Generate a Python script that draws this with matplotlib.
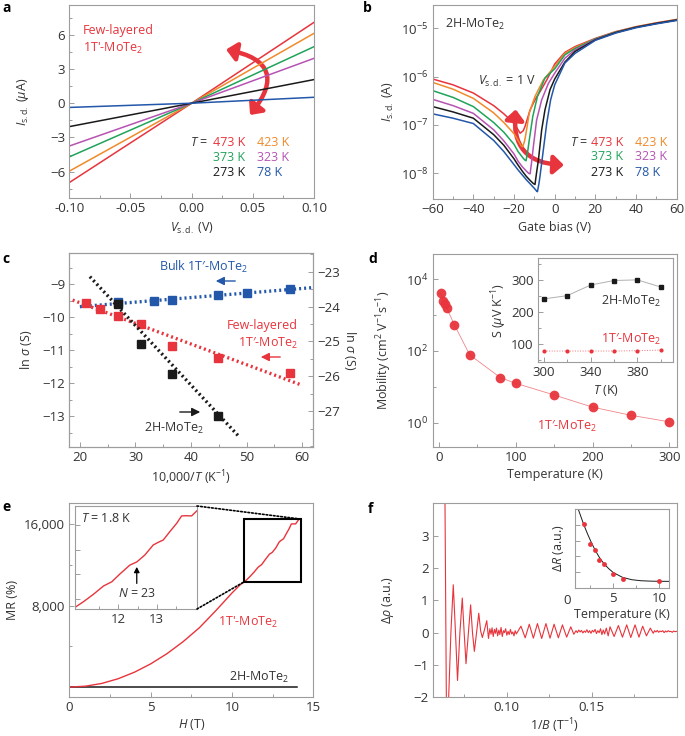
import numpy as np
import matplotlib
matplotlib.use("Agg")
import matplotlib.pyplot as plt
from matplotlib.patches import FancyArrowPatch, Rectangle, ConnectionPatch
from matplotlib.ticker import MultipleLocator, FixedLocator, NullFormatter, FormatStrFormatter

plt.rcParams['font.family'] = ['Open Sans', 'DejaVu Sans']
plt.rcParams['mathtext.fontset'] = 'custom'
plt.rcParams['mathtext.rm'] = 'Open Sans'
plt.rcParams['mathtext.it'] = 'Open Sans:italic'
plt.rcParams['mathtext.bf'] = 'Open Sans:bold'
plt.rcParams['font.size'] = 9

RED = '#e8343c'
ORANGE = '#f08a2a'
GREEN = '#1fa35a'
VIOLET = '#b653b3'
BLACK = '#1a1a1a'
BLUE = '#2357aa'
GRAY = '#9d9d9d'
TXT = '#333333'

# ---- panel a : I-V curves of few-layered 1T'-MoTe2
a_temps = ['473 K', '423 K', '373 K', '323 K', '273 K', '78 K']
a_colors = [RED, ORANGE, GREEN, VIOLET, BLACK, BLUE]
a_vsd = [-0.1, 0.0, 0.1]
a_i_left = [-6.95, -5.95, -4.70, -3.75, -2.05, -0.37]
a_i_right = [7.08, 6.12, 4.95, 3.93, 2.07, 0.52]

# ---- panel b : transfer curves of 2H-MoTe2 (log10 of I in A)
b_vg_left = [-60, -50, -40, -30, -25, -20]
b_vg_right = [5, 10, 20, 30, 40, 50, 60]
b_log_left = {
    '473 K': [-6.05, -6.17, -6.34, -6.60, -6.77, -6.97],
    '423 K': [-6.12, -6.26, -6.45, -6.75, -6.95, -7.18],
    '373 K': [-6.29, -6.43, -6.62, -6.95, -7.15, -7.40],
    '323 K': [-6.47, -6.60, -6.76, -7.10, -7.33, -7.60],
    '273 K': [-6.62, -6.73, -6.86, -7.20, -7.42, -7.70],
    '78 K': [-6.77, -6.86, -6.97, -7.32, -7.55, -7.82],
}
b_vg_mid = {
    '473 K': [-18, -17, -15.5, -14.6, -12.1, -9.7, -7.2, -3.9, 0],
    '423 K': [-18, -16.5, -15.7, -14.8, -14.1, -12.5, -9.7, -5.6, 0],
    '373 K': [-18, -16, -14.8, -14.1, -13.3, -12.5, -10.8, -8.5, -4.8, 0],
    '323 K': [-18, -16, -14, -12.8, -12.1, -11.3, -10.5, -8.9, -6.4, -3.1, 0],
    '273 K': [-18, -16, -14, -12, -10.5, -9.7, -8.9, -8.0, -6.4, -4.8, -2.3, 0],
    '78 K': [-18, -16, -14, -12, -10, -9, -8.5, -7.7, -7.2, -5.6, -3.9, -2.0, 0],
}
b_log_mid = {
    '473 K': [-7.10, -7.17, -7.12, -7.03, -6.69, -6.48, -6.31, -6.07, -5.74],
    '423 K': [-7.32, -7.43, -7.45, -7.33, -7.17, -6.75, -6.41, -6.07, -5.79],
    '373 K': [-7.55, -7.66, -7.72, -7.74, -7.55, -7.31, -6.83, -6.41, -6.03, -5.84],
    '323 K': [-7.75, -7.86, -7.95, -8.00, -8.01, -7.75, -7.45, -6.90, -6.48, -6.14, -5.93],
    '273 K': [-7.83, -7.95, -8.06, -8.15, -8.21, -8.23, -7.98, -7.72, -7.10, -6.69, -6.27, -6.05],
    '78 K': [-7.93, -8.03, -8.13, -8.22, -8.31, -8.36, -8.38, -8.20, -8.05, -7.52, -6.96, -6.48, -6.17],
}
b_log_right = {
    '473 K': [-5.50, -5.38, -5.21, -5.07, -4.97, -4.89, -4.82],
    '423 K': [-5.52, -5.40, -5.22, -5.08, -4.97, -4.89, -4.82],
    '373 K': [-5.55, -5.42, -5.22, -5.08, -4.98, -4.90, -4.83],
    '323 K': [-5.62, -5.45, -5.23, -5.09, -4.98, -4.90, -4.83],
    '273 K': [-5.70, -5.48, -5.24, -5.09, -4.98, -4.90, -4.83],
    '78 K': [-5.72, -5.52, -5.25, -5.10, -4.99, -4.91, -4.84],
}

# ---- panel c : Arrhenius plots
c_bulk_x = [26.8, 33.3, 36.6, 44.8, 50.0, 57.8]
c_bulk_y = [-9.55, -9.50, -9.47, -9.34, -9.27, -9.15]
c_few_x = [21.1, 23.6, 26.8, 31.0, 36.6, 44.8, 57.8]
c_few_y = [-9.58, -9.75, -9.96, -10.22, -10.86, -11.25, -11.70]
c_2h_x = [26.8, 31.0, 36.6, 44.8]
c_2h_y = [-23.93, -25.06, -25.92, -27.14]
c_bulk_fit_x = [20.0, 62.0]
c_bulk_fit_y = [-9.68, -9.10]
c_few_fit_x = [18.7, 59.9]
c_few_fit_y = [-9.48, -12.06]
c_2h_fit_x = [21.8, 48.7]
c_2h_fit_y = [-23.14, -27.74]

# ---- panel d : mobility and Seebeck inset
d_temp = [2, 5, 8, 10, 20, 40, 80, 100, 150, 200, 250, 300]
d_mob = [4200, 2500, 2000, 1600, 540, 78, 18, 12.5, 5.9, 2.7, 1.6, 1.05]
d_s_temp = [300, 320, 340, 360, 380, 400]
d_s_2h = [241, 251, 284, 298, 300, 278]
d_s_1t = [79, 79, 79, 79, 80, 82]

# ---- panel e : magnetoresistance
e_h = [0, 1, 2, 3, 4, 5, 6, 7, 8, 9, 10, 10.5,
       10.87, 11.09, 11.35, 11.61, 11.83, 12.04, 12.30, 12.48, 12.69, 12.91,
       13.04, 13.17, 13.34, 13.52, 13.65, 13.78, 13.91, 14.07]
e_mr = [0, 90, 360, 820, 1460, 2280, 3280, 4470, 5840, 7500, 9250, 10050,
        10500, 10840, 11290, 11790, 12050, 12520, 13060, 13250, 13670, 14280,
        14440, 14580, 15080, 15590, 16040, 16050, 16040, 16400]
e_h_2h = [0, 14]
e_mr_2h = [30, 30]

# ---- panel f : SdH oscillations and amplitude vs temperature
f_x = [0.0636, 0.0646, 0.0657, 0.0672, 0.0686, 0.0699, 0.0711, 0.0725, 0.0739, 0.0750,
       0.0761, 0.0775, 0.0788, 0.0799, 0.0810, 0.0823, 0.0836, 0.0847, 0.0857, 0.0870,
       0.0883, 0.0893, 0.0901, 0.0908, 0.0914, 0.0921, 0.0928, 0.0934, 0.0940, 0.0947,
       0.0954, 0.0960, 0.0967, 0.0974, 0.0981, 0.0987, 0.0994, 0.1001, 0.1008, 0.1015,
       0.1022, 0.1029, 0.1036, 0.1043, 0.1050, 0.1057, 0.1084, 0.1109, 0.1133, 0.1157,
       0.1181, 0.1206, 0.1231, 0.1255, 0.1279, 0.1304, 0.1328, 0.1353, 0.1377, 0.1395,
       0.1408, 0.1416, 0.1424, 0.1432, 0.1440, 0.1448, 0.1456, 0.1464, 0.1472, 0.1480,
       0.1488, 0.1496, 0.1504, 0.1512, 0.1520, 0.1528, 0.1536, 0.1544, 0.1552, 0.1560,
       0.1568, 0.1576, 0.1586, 0.1597, 0.1608, 0.1632, 0.1657, 0.1681, 0.1706, 0.1730,
       0.1755, 0.1778, 0.1800, 0.1822, 0.1845, 0.1862, 0.1870, 0.1878, 0.1886, 0.1894,
       0.1902, 0.1910, 0.1918, 0.1926, 0.1934, 0.1942, 0.1950, 0.1958, 0.1966, 0.1974,
       0.1982, 0.1990, 0.2000]
f_y = [5.0, -2.6, -2.3, 0.0, 1.48, 0.0, -1.48, 0.0, 1.07, 0.0,
       -0.96, 0.0, 0.86, 0.0, -0.58, 0.0, 0.60, 0.05, -0.15, 0.10,
       0.37, -0.18, 0.12, -0.05, 0.15, -0.12, 0.10, -0.02, 0.14, -0.10,
       0.08, -0.06, 0.16, -0.12, 0.06, 0.0, 0.12, -0.08, 0.04, -0.06,
       0.10, -0.04, 0.02, -0.10, 0.06, -0.04, 0.20, -0.16, 0.26, -0.17,
       0.28, -0.18, 0.28, -0.17, 0.26, -0.16, 0.24, -0.14, 0.18, -0.05,
       0.06, 0.00, 0.08, 0.02, 0.07, -0.01, 0.05, 0.01, 0.09, 0.00,
       0.06, -0.02, 0.07, 0.02, 0.10, -0.03, 0.06, 0.00, 0.12, -0.06,
       0.08, -0.04, 0.14, -0.10, 0.18, -0.12, 0.22, -0.14, 0.24, -0.15,
       0.24, -0.14, 0.20, -0.10, 0.14, -0.02, 0.06, 0.02, 0.07, 0.01,
       0.05, 0.03, 0.06, 0.00, 0.05, 0.02, 0.06, 0.03, 0.04, 0.01,
       0.05, 0.03, 0.04]
f_temp = [1.8, 2.5, 3.0, 3.5, 4.0, 5.0, 6.0, 10.0]
f_dr = [8.1, 5.6, 4.8, 3.5, 3.05, 1.8, 1.2, 0.85]
f_fit_temp = [1.0, 1.4, 1.8, 2.2, 2.6, 3.0, 3.5, 4.0, 4.5, 5.0, 6.0, 7.0, 8.0, 9.0, 10.0, 11.0]
f_fit_dr = [10.6, 9.3, 8.0, 6.85, 5.8, 4.85, 3.85, 3.05, 2.45, 1.95, 1.35, 1.05, 0.92, 0.87, 0.85, 0.84]

W, H = 685, 736
fig = plt.figure(figsize=(W / 100, H / 100), dpi=100)


def add_ax(x0, y0, x1, y1):
    return fig.add_axes([x0 / W, 1 - y1 / H, (x1 - x0) / W, (y1 - y0) / H])


def style(ax, right=False, size=9.5):
    for s in ax.spines.values():
        s.set_color(GRAY)
        s.set_linewidth(0.8)
    ax.tick_params(which='both', direction='in', color=GRAY, labelcolor=TXT,
                   top=False, right=right, width=0.7, labelsize=size, pad=3)
    ax.tick_params(which='major', length=3.5)
    ax.tick_params(which='minor', length=2)


def labels(ax, xl, yl, xpos, ypos):
    ax.set_xlabel(xl, color=TXT)
    ax.set_ylabel(yl, color=TXT)
    ax.xaxis.set_label_coords(0.5, xpos)
    ax.yaxis.set_label_coords(ypos, 0.5)


def ftxt(x, y, s, **kw):
    kw.setdefault('va', 'center')
    fig.text(x / W, 1 - y / H, s, **kw)


ARROW = '<|-|>,head_length=0.55,head_width=0.5'

# ================= a
ax = add_ax(69.3, 5, 314, 198)
style(ax)
for lab, col, il, ir in zip(a_temps, a_colors, a_i_left, a_i_right):
    ax.plot(a_vsd, [il, 0, ir], color=col, lw=1.1)
ax.set_xlim(-0.1, 0.1)
ax.set_ylim(-8.3, 8.6)
ax.set_xticks([-0.1, -0.05, 0, 0.05, 0.1])
ax.xaxis.set_major_formatter(FormatStrFormatter('%.2f'))
ax.xaxis.set_minor_locator(MultipleLocator(0.025))
ax.set_yticks([-6, -3, 0, 3, 6])
ax.yaxis.set_minor_locator(MultipleLocator(1.5))
labels(ax, r'$V_{\rm s.d.}$ (V)', r'$I_{\rm s.d.}$ ($\mu$A)', -0.12, -0.155)
ax.text(0.055, 0.9, "Few-layered\n1T'-MoTe$_2$", transform=ax.transAxes, color=RED,
        va='top', ha='left', linespacing=1.3)
ax.add_patch(FancyArrowPatch((0.0259, 4.75), (0.0463, -1.22), connectionstyle='arc3,rad=-0.85',
                             arrowstyle=ARROW, color=RED, lw=3.2, mutation_scale=11))
rows = [143, 157.5, 172]
ftxt(208, rows[0], '$T$ =', ha='right', color=TXT)
for k, (lab, col) in enumerate(zip(a_temps, a_colors)):
    r = rows[k // 2]
    if k % 2 == 0:
        ftxt(245, r, lab, ha='right', color=col)
    else:
        ftxt(256.7, r, lab, ha='left', color=col)
ftxt(2, 8, 'a', fontweight='bold', fontsize=10, color='k')

# ================= b
ax = add_ax(432.7, 5, 676.7, 199)
style(ax)
for lab, col in zip(a_temps, a_colors):
    xs = b_vg_left + b_vg_mid[lab] + b_vg_right
    ys = b_log_left[lab] + b_log_mid[lab] + b_log_right[lab]
    ax.plot(xs, 10.0 ** np.array(ys), color=col, lw=1.1)
ax.set_yscale('log')
ax.set_xlim(-60, 60)
ax.set_ylim(10 ** -8.53, 10 ** -4.52)
ax.set_xticks([-60, -40, -20, 0, 20, 40, 60])
ax.xaxis.set_minor_locator(MultipleLocator(10))
ax.yaxis.set_major_locator(FixedLocator([1e-8, 1e-7, 1e-6, 1e-5]))
ax.yaxis.set_minor_locator(FixedLocator([]))
labels(ax, 'Gate bias (V)', r'$I_{\rm s.d.}$ (A)', -0.115, -0.15)
ax.text(0.05, 0.9, '2H-MoTe$_2$', transform=ax.transAxes, color=TXT, va='center')
ax.add_patch(FancyArrowPatch((-19.0, 10 ** -6.62), (5.9, 10 ** -7.83), connectionstyle='arc3,rad=0.56',
                             arrowstyle=ARROW, color=RED, lw=3.2, mutation_scale=11))
ftxt(478, 81.7, r'$V_{\rm s.d.}$ = 1 V', ha='left', color=TXT)
rows = [142.7, 156.5, 172.7]
ftxt(588.3, rows[0], '$T$ =', ha='right', color=TXT)
for k, (lab, col) in enumerate(zip(a_temps, a_colors)):
    r = rows[k // 2]
    if k % 2 == 0:
        ftxt(623.3, r, lab, ha='right', color=col)
    else:
        ftxt(635, r, lab, ha='left', color=col)
ftxt(363, 8, 'b', fontweight='bold', fontsize=10, color='k')

# ================= c
ax = add_ax(69.3, 253.3, 313.3, 446.7)
style(ax)
ax2 = ax.twinx()
style(ax2, right=True)
ax2.tick_params(which='both', left=False, right=True)
ax.plot(c_bulk_fit_x, c_bulk_fit_y, ls=(0, (0.6, 0.9)), color=BLUE, lw=2.4)
ax.plot(c_few_fit_x, c_few_fit_y, ls=(0, (0.6, 0.9)), color=RED, lw=2.4)
ax2.plot(c_2h_fit_x, c_2h_fit_y, ls=(0, (0.6, 0.9)), color=BLACK, lw=2.4)
ax.plot(c_bulk_x, c_bulk_y, 's', color=BLUE, ms=6)
ax.plot(c_few_x, c_few_y, 's', color=RED, ms=6)
ax2.plot(c_2h_x, c_2h_y, 's', color=BLACK, ms=6)
ax.set_xlim(18.1, 62)
ax.set_ylim(-13.93, -8.06)
ax2.set_ylim(-28.02, -22.47)
ax.set_xticks([20, 30, 40, 50, 60])
ax.xaxis.set_minor_locator(MultipleLocator(5))
ax.set_yticks([-13, -12, -11, -10, -9])
ax.yaxis.set_minor_locator(MultipleLocator(0.5))
ax2.set_yticks([-27, -26, -25, -24, -23])
ax2.yaxis.set_minor_locator(MultipleLocator(0.5))
labels(ax, r'10,000/$T$ (K$^{-1}$)', r'ln $\sigma$ (S)', -0.11, -0.145)
ax2.set_ylabel(r'ln $\sigma$ (S)', color=TXT, rotation=270, labelpad=13)
ftxt(203, 266.7, 'Bulk 1T\u2032-MoTe$_2$', ha='center', color=BLUE)
ftxt(298, 325, 'Few-layered', ha='right', color=RED)
ftxt(298, 343, '1T\u2032-MoTe$_2$', ha='right', color=RED)
ftxt(174, 428, '2H-MoTe$_2$', ha='center', color=TXT)
for (x0, x1, y, col) in [(238, 213, 281, BLUE), (283, 258, 357, RED), (177, 203, 412, BLACK)]:
    fig.add_artist(FancyArrowPatch((x0 / W, 1 - y / H), (x1 / W, 1 - y / H), transform=fig.transFigure,
                                   arrowstyle='-|>,head_length=0.5,head_width=0.25', color=col,
                                   lw=1.0, mutation_scale=10))
ftxt(2, 259, 'c', fontweight='bold', fontsize=10, color='k')

# ================= d
ax = add_ax(432.7, 254.3, 676.7, 447.3)
style(ax)
ax.plot(d_temp, d_mob, '-', color=RED, lw=0.6, alpha=0.6)
ax.plot(d_temp, d_mob, 'o', color=RED, ms=7, mec='none', alpha=0.95)
ax.set_yscale('log')
ax.set_xlim(-8.2, 309.6)
ax.set_ylim(10 ** -0.69, 10 ** 4.70)
ax.set_xticks([0, 100, 200, 300])
ax.xaxis.set_minor_locator(MultipleLocator(50))
ax.yaxis.set_major_locator(FixedLocator([1, 1e2, 1e4]))
ax.yaxis.set_minor_locator(FixedLocator([10, 1e3]))
ax.yaxis.set_minor_formatter(NullFormatter())
labels(ax, 'Temperature (K)', 'Mobility (cm$^2$ V$^{-1}$s$^{-1}$)', -0.107, -0.157)
ftxt(566.7, 426.7, '1T\u2032-MoTe$_2$', ha='center', color=RED)
ftxt(368, 259, 'd', fontweight='bold', fontsize=10, color='k')

axi = add_ax(537.7, 258.3, 673.3, 362.3)
style(axi)
axi.plot(d_s_temp, d_s_2h, '-', color='#b0b0b0', lw=0.7)
axi.plot(d_s_temp, d_s_2h, 's', color=BLACK, ms=3)
axi.plot(d_s_temp, d_s_1t, ':', color=RED, lw=0.7, alpha=0.7)
axi.plot(d_s_temp, d_s_1t, 'o', color=RED, ms=3, mec='none')
axi.set_xlim(294.6, 410.9)
axi.set_ylim(44, 367)
axi.set_xticks([300, 340, 380])
axi.xaxis.set_minor_locator(MultipleLocator(20))
axi.set_yticks([100, 200, 300])
axi.yaxis.set_minor_locator(MultipleLocator(50))
labels(axi, r'$T$ (K)', r'S ($\mu$V K$^{-1}$)', -0.2, -0.21)
ftxt(631, 301.7, '2H-MoTe$_2$', ha='center', color=TXT)
ftxt(631, 339.3, '1T\u2032-MoTe$_2$', ha='center', color=RED)

# ================= e
ax = add_ax(69.3, 503.3, 313.3, 696.7)
style(ax)
ax.plot(e_h_2h, e_mr_2h, color=BLACK, lw=1.1)
ax.plot(e_h, e_mr, color=RED, lw=1.0)
ax.set_xlim(0, 15)
ax.set_ylim(-945, 18070)
ax.set_xticks([0, 5, 10, 15])
ax.xaxis.set_minor_locator(MultipleLocator(2.5))
ax.yaxis.set_major_locator(FixedLocator([8000, 16000]))
ax.yaxis.set_minor_locator(FixedLocator([4000, 12000]))
ax.set_yticklabels(['8,000', '16,000'])
labels(ax, r'$H$ (T)', 'MR (%)', -0.105, -0.207)
rect_h0, rect_mr0, rect_w, rect_hgt = 10.76, 10360, 3.46, 6160
ax.add_patch(Rectangle((rect_h0, rect_mr0), rect_w, rect_hgt, fill=False, ec='k', lw=1.5, zorder=3))
ax.text(10.99, 6400, "1T'-MoTe$_2$", color=RED, ha='center', va='center')
ax.text(11.66, 990, '2H-MoTe$_2$', color=TXT, ha='center', va='center')
ftxt(2, 507, 'e', fontweight='bold', fontsize=10, color='k')

axe = add_ax(75, 506, 197, 609)
style(axe)
axe.plot(e_h, e_mr, color=RED, lw=1.0)
axe.set_xlim(10.87, 14.05)
axe.set_ylim(10400, 16640)
axe.set_xticks([12, 13])
axe.xaxis.set_minor_locator(FixedLocator([11.5, 12.5, 13.5]))
axe.yaxis.set_major_locator(FixedLocator([11000, 12500, 14000, 15500]))
axe.set_yticklabels([])
axe.text(11.02, 15900, '$T$ = 1.8 K', color=TXT, ha='left', va='center')
axe.text(12.48, 11350, '$N$ = 23', color=TXT, ha='center', va='center')
axe.annotate('', xy=(12.48, 12950), xytext=(12.48, 11950),
             arrowprops=dict(arrowstyle='-|>,head_length=0.35,head_width=0.18', color='k', lw=0.9,
                             shrinkA=0, shrinkB=0))
for ptA, ptB in [((1, 1), (rect_h0 + rect_w, rect_mr0 + rect_hgt)), ((1, 0), (rect_h0, rect_mr0))]:
    fig.add_artist(ConnectionPatch(xyA=ptA, coordsA=axe.transAxes, xyB=ptB, coordsB=ax.transData,
                                   color='k', ls=(0, (1, 1.2)), lw=1.2))

# ================= f
ax = add_ax(432.7, 503.3, 676.7, 697.3)
style(ax)
ax.plot(f_x, f_y, color=RED, lw=0.8)
ax.set_xlim(0.0565, 0.2)
ax.set_ylim(-2.0, 4.0)
ax.set_xticks([0.10, 0.15])
ax.xaxis.set_major_formatter(FormatStrFormatter('%.2f'))
ax.xaxis.set_minor_locator(FixedLocator([0.075, 0.125, 0.175]))
ax.set_yticks([-2, -1, 0, 1, 2, 3])
labels(ax, r'1/$B$ (T$^{-1}$)', r'$\Delta\rho$ (a.u.)', -0.1, -0.15)
ftxt(368, 509, 'f', fontweight='bold', fontsize=10, color='k')

axf = add_ax(575, 509, 669, 588)
style(axf)
axf.plot(f_fit_temp, f_fit_dr, color=BLACK, lw=0.7)
axf.plot(f_temp, f_dr, 'o', color=RED, ms=3.5, mec='none')
axf.set_xlim(0.84, 11.05)
axf.set_ylim(0, 10)
axf.set_xticks([5, 10])
axf.xaxis.set_minor_locator(FixedLocator([2.5, 7.5]))
axf.yaxis.set_major_locator(FixedLocator([2, 4, 6, 8]))
axf.set_yticklabels([])
labels(axf, 'Temperature (K)', r'$\Delta R$ (a.u.)', -0.25, -0.1)
ftxt(567.3, 600, '0', ha='center', color=TXT, fontsize=9.5)

fig.savefig('out.png', dpi=100)
